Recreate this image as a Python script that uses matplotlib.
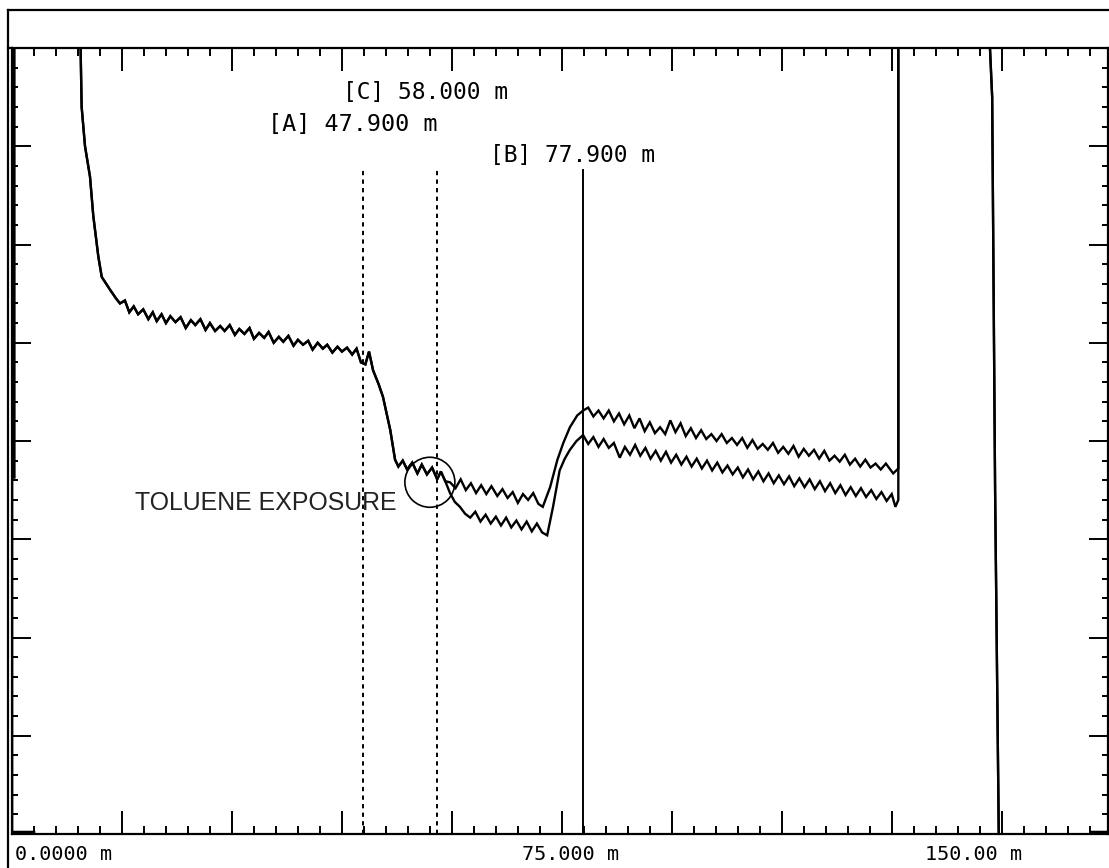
import matplotlib
matplotlib.use('Agg')
import matplotlib.pyplot as plt
from matplotlib.patches import Ellipse
from matplotlib.lines import Line2D
import numpy as np

# distance (m) and level (divisions, 0..8)
dist_common = [3.0, 0.0, 0.0, 0.3, 0.3, 9.0, 9.5, 9.96, 10.64, 11.09, 11.77, 12.24, 13.37,
               14.2, 14.73, 15.4, 16.0, 16.6, 17.2, 17.9, 18.6, 19.2, 19.74, 20.4, 21.0, 21.6, 22.3,
               23.0, 23.7, 24.4, 25.0, 25.7, 26.4, 27.0, 27.7, 28.4, 29.0, 29.7, 30.4, 31.0, 31.7,
               32.4, 33.0, 33.7, 34.4, 35.0, 35.7, 36.4, 37.0, 37.7, 38.4, 39.0, 39.7, 40.4, 41.0,
               41.7, 42.4, 43.0, 43.7, 44.4, 45.0, 45.7, 46.4, 47.0, 47.6, 48.2, 48.7, 49.25, 50.0,
               50.6, 51.1, 51.6, 52.25, 52.7, 53.3, 53.9, 54.6, 55.3, 55.9, 56.6, 57.3, 58.0, 58.5, 59.1]
level_common = [0.02, 0.02, 3.63, 3.63, 9.5, 9.5, 7.40, 7.0, 6.69, 6.29, 5.88, 5.67, 5.54,
                5.45, 5.40, 5.43, 5.31, 5.37, 5.29, 5.34, 5.24, 5.31, 5.22, 5.29, 5.20, 5.27, 5.21,
                5.26, 5.15, 5.23, 5.18, 5.24, 5.13, 5.20, 5.12, 5.17, 5.12, 5.18, 5.08, 5.14, 5.09,
                5.15, 5.04, 5.10, 5.05, 5.11, 5.00, 5.06, 5.01, 5.07, 4.97, 5.03, 4.98, 5.02, 4.93,
                5.00, 4.94, 4.98, 4.90, 4.96, 4.91, 4.95, 4.88, 4.94, 4.80, 4.78, 4.91, 4.72, 4.58,
                4.45, 4.28, 4.11, 3.81, 3.74, 3.80, 3.71, 3.78, 3.67, 3.76, 3.66, 3.73, 3.61, 3.69, 3.59]

dist_upper = [59.75, 60.5, 61.2, 61.9, 62.6, 63.3, 64.0, 64.7, 65.4, 66.2, 66.9, 67.6, 68.3, 69.0,
              69.7, 70.4, 71.1, 71.8, 72.4, 73.4, 74.4, 75.2, 76.1, 77.1, 77.9, 78.6, 79.3, 80.0,
              80.7, 81.4, 82.1, 82.8, 83.5, 84.2, 84.9, 85.6, 86.3, 87.0, 87.7, 88.4, 89.1, 89.8,
              90.5, 91.2, 91.9, 92.6, 93.3, 94.0, 94.7, 95.4, 96.1, 96.8, 97.5, 98.2, 98.9, 99.6,
              100.3, 101.0, 101.7, 102.4, 103.1, 103.8, 104.5, 105.2, 105.9, 106.6, 107.3, 108.0,
              108.7, 109.4, 110.1, 110.8, 111.5, 112.2, 112.9, 113.6, 114.3, 115.0, 115.7, 116.4,
              117.1, 117.8, 118.5, 119.2, 120.2, 120.9]
level_upper = [3.58, 3.52, 3.61, 3.50, 3.57, 3.47, 3.55, 3.46, 3.54, 3.44, 3.51, 3.42, 3.48, 3.37,
               3.46, 3.40, 3.47, 3.36, 3.33, 3.53, 3.81, 3.98, 4.14, 4.26, 4.31, 4.34, 4.25, 4.31,
               4.23, 4.31, 4.20, 4.28, 4.17, 4.26, 4.13, 4.23, 4.10, 4.19, 4.08, 4.14, 4.07, 4.21,
               4.09, 4.18, 4.05, 4.13, 4.03, 4.11, 4.02, 4.07, 4.00, 4.07, 3.98, 4.03, 3.96, 4.03,
               3.93, 4.01, 3.92, 3.97, 3.91, 3.98, 3.88, 3.94, 3.87, 3.95, 3.84, 3.92,
               3.85, 3.91, 3.82, 3.90, 3.80, 3.85, 3.79, 3.86, 3.76, 3.82, 3.74, 3.81,
               3.73, 3.77, 3.71, 3.77, 3.67, 3.72]

dist_lower = [59.75, 60.4, 61.1, 61.8, 62.5, 63.2, 63.9, 64.6, 65.3, 66.0, 66.7, 67.4, 68.1, 68.8,
              69.5, 70.2, 70.9, 71.6, 72.3, 73.0, 73.8, 74.7, 75.4, 76.1, 77.0, 77.9, 78.6, 79.3,
              80.0, 80.7, 81.4, 82.1, 82.9, 83.6, 84.3, 85.0, 85.7, 86.4, 87.1, 87.8, 88.5, 89.2,
              89.9, 90.6, 91.3, 92.0, 92.7, 93.4, 94.1, 94.8, 95.5, 96.2, 96.9, 97.6, 98.3, 99.0,
              99.7, 100.4, 101.1, 101.8, 102.5, 103.2, 103.9, 104.6, 105.3, 106.0, 106.7, 107.4,
              108.1, 108.8, 109.5, 110.2, 110.9, 111.6, 112.3, 113.0, 113.7, 114.4, 115.1, 115.8,
              116.5, 117.2, 117.9, 118.6, 119.3, 120.0, 120.5, 120.9]
level_lower = [3.47, 3.38, 3.33, 3.26, 3.22, 3.28, 3.18, 3.25, 3.16, 3.23, 3.14, 3.22, 3.12, 3.19,
               3.10, 3.18, 3.08, 3.16, 3.07, 3.04, 3.33, 3.70, 3.82, 3.91, 4.00, 4.06, 3.97, 4.04,
               3.94, 4.02, 3.93, 3.98, 3.83, 3.94, 3.86, 3.96, 3.85, 3.93, 3.82, 3.90, 3.80, 3.89,
               3.78, 3.86, 3.76, 3.84, 3.74, 3.82, 3.72, 3.80, 3.70, 3.78, 3.68, 3.75, 3.66, 3.73,
               3.63, 3.71, 3.61, 3.69, 3.59, 3.67, 3.57, 3.65, 3.56, 3.64, 3.54, 3.62,
               3.53, 3.61, 3.51, 3.59, 3.49, 3.57, 3.47, 3.55, 3.45, 3.53, 3.44, 3.52,
               3.43, 3.50, 3.41, 3.48, 3.39, 3.46, 3.33, 3.40]

dist_end = [120.9, 133.3, 133.4, 133.7, 134.1, 134.6, 135.0, 147.0, 147.3, 149.5]
level_end = [9.5, 9.5, 8.0, 7.5, 3.5, 0.0, -1.0, -1.0, 0.02, 0.02]

cursor_names = ["[A] 47.900 m", "[C] 58.000 m", "[B] 77.900 m"]
cursor_pos = [47.9, 58.0, 77.9]
axis_labels = ["0.0000 m", "75.000 m", "150.00 m"]

W, H = 1109, 868
fig = plt.figure(figsize=(W / 100, H / 100), dpi=100)
ax = fig.add_axes([12 / W, (H - 834) / H, 1096 / W, 786 / H])

for tail_d, tail_l in ((dist_upper, level_upper), (dist_lower, level_lower)):
    d = dist_common + tail_d + dist_end
    l = level_common + tail_l + level_end
    ax.plot(d, l, color='black', lw=1.7, solid_joinstyle='miter')

cursor_styles = [(0, (2.2, 2.2)), (0, (2.2, 2.2)), '-']
for pos, ls in zip(cursor_pos, cursor_styles):
    ax.plot([pos, pos], [0, 6.76], color='black', lw=1.4, linestyle=ls)

# cursor labels
ax.text(34.9, 7.22, cursor_names[0], family='DejaVu Sans Mono', fontsize=16.8, va='center', ha='left')
ax.text(45.2, 7.55, cursor_names[1], family='DejaVu Sans Mono', fontsize=16.5, va='center', ha='left')
ax.text(65.2, 6.91, cursor_names[2], family='DejaVu Sans Mono', fontsize=16.5, va='center', ha='left')

ax.add_patch(Ellipse((57.0, 3.58), 50 / 7.33, 50 / 98.25, fill=False, color='black', lw=1.2))
ax.text(16.8, 3.37, "TOLUENE EXPOSURE", family='Liberation Sans', fontsize=17.9,
        color='#222222', va='center', ha='left')

ax.set_xlim(0, 149.5)
ax.set_ylim(0, 8)
ax.set_xticks(np.arange(0, 150, 15))
ax.set_xticks(np.arange(0, 150, 3), minor=True)
ax.set_yticks(np.arange(0, 9, 1))
ax.set_yticks(np.arange(0, 8.01, 0.2), minor=True)
ax.tick_params(axis='x', which='major', direction='in', length=16.5, width=1.4,
               top=True, bottom=True, labelbottom=False)
ax.tick_params(axis='x', which='minor', direction='in', length=6, width=1.4, top=True, bottom=True)
ax.tick_params(axis='y', which='major', direction='in', length=13.5, width=1.4,
               left=True, right=True, labelleft=False)
ax.tick_params(axis='y', which='minor', direction='in', length=4.5, width=1.4, left=True, right=True)
for s in ax.spines.values():
    s.set_linewidth(1.6)

# outer frame of the instrument screen
fig.add_artist(Line2D([8 / W, 1], [1 - 10 / H, 1 - 10 / H], color='black', lw=1.6))
fig.add_artist(Line2D([8 / W, 8 / W], [0, 1 - 10 / H], color='black', lw=1.6))
fig.add_artist(Line2D([8 / W, 12 / W], [1 - 48 / H, 1 - 48 / H], color='black', lw=1.6))

label_x = [15, 522, 925]
for lx, txt in zip(label_x, axis_labels):
    fig.text(lx / W, 1 - 854 / H, txt, family='DejaVu Sans Mono', fontsize=14.5, va='center', ha='left')

fig.savefig('out.png', dpi=100)
